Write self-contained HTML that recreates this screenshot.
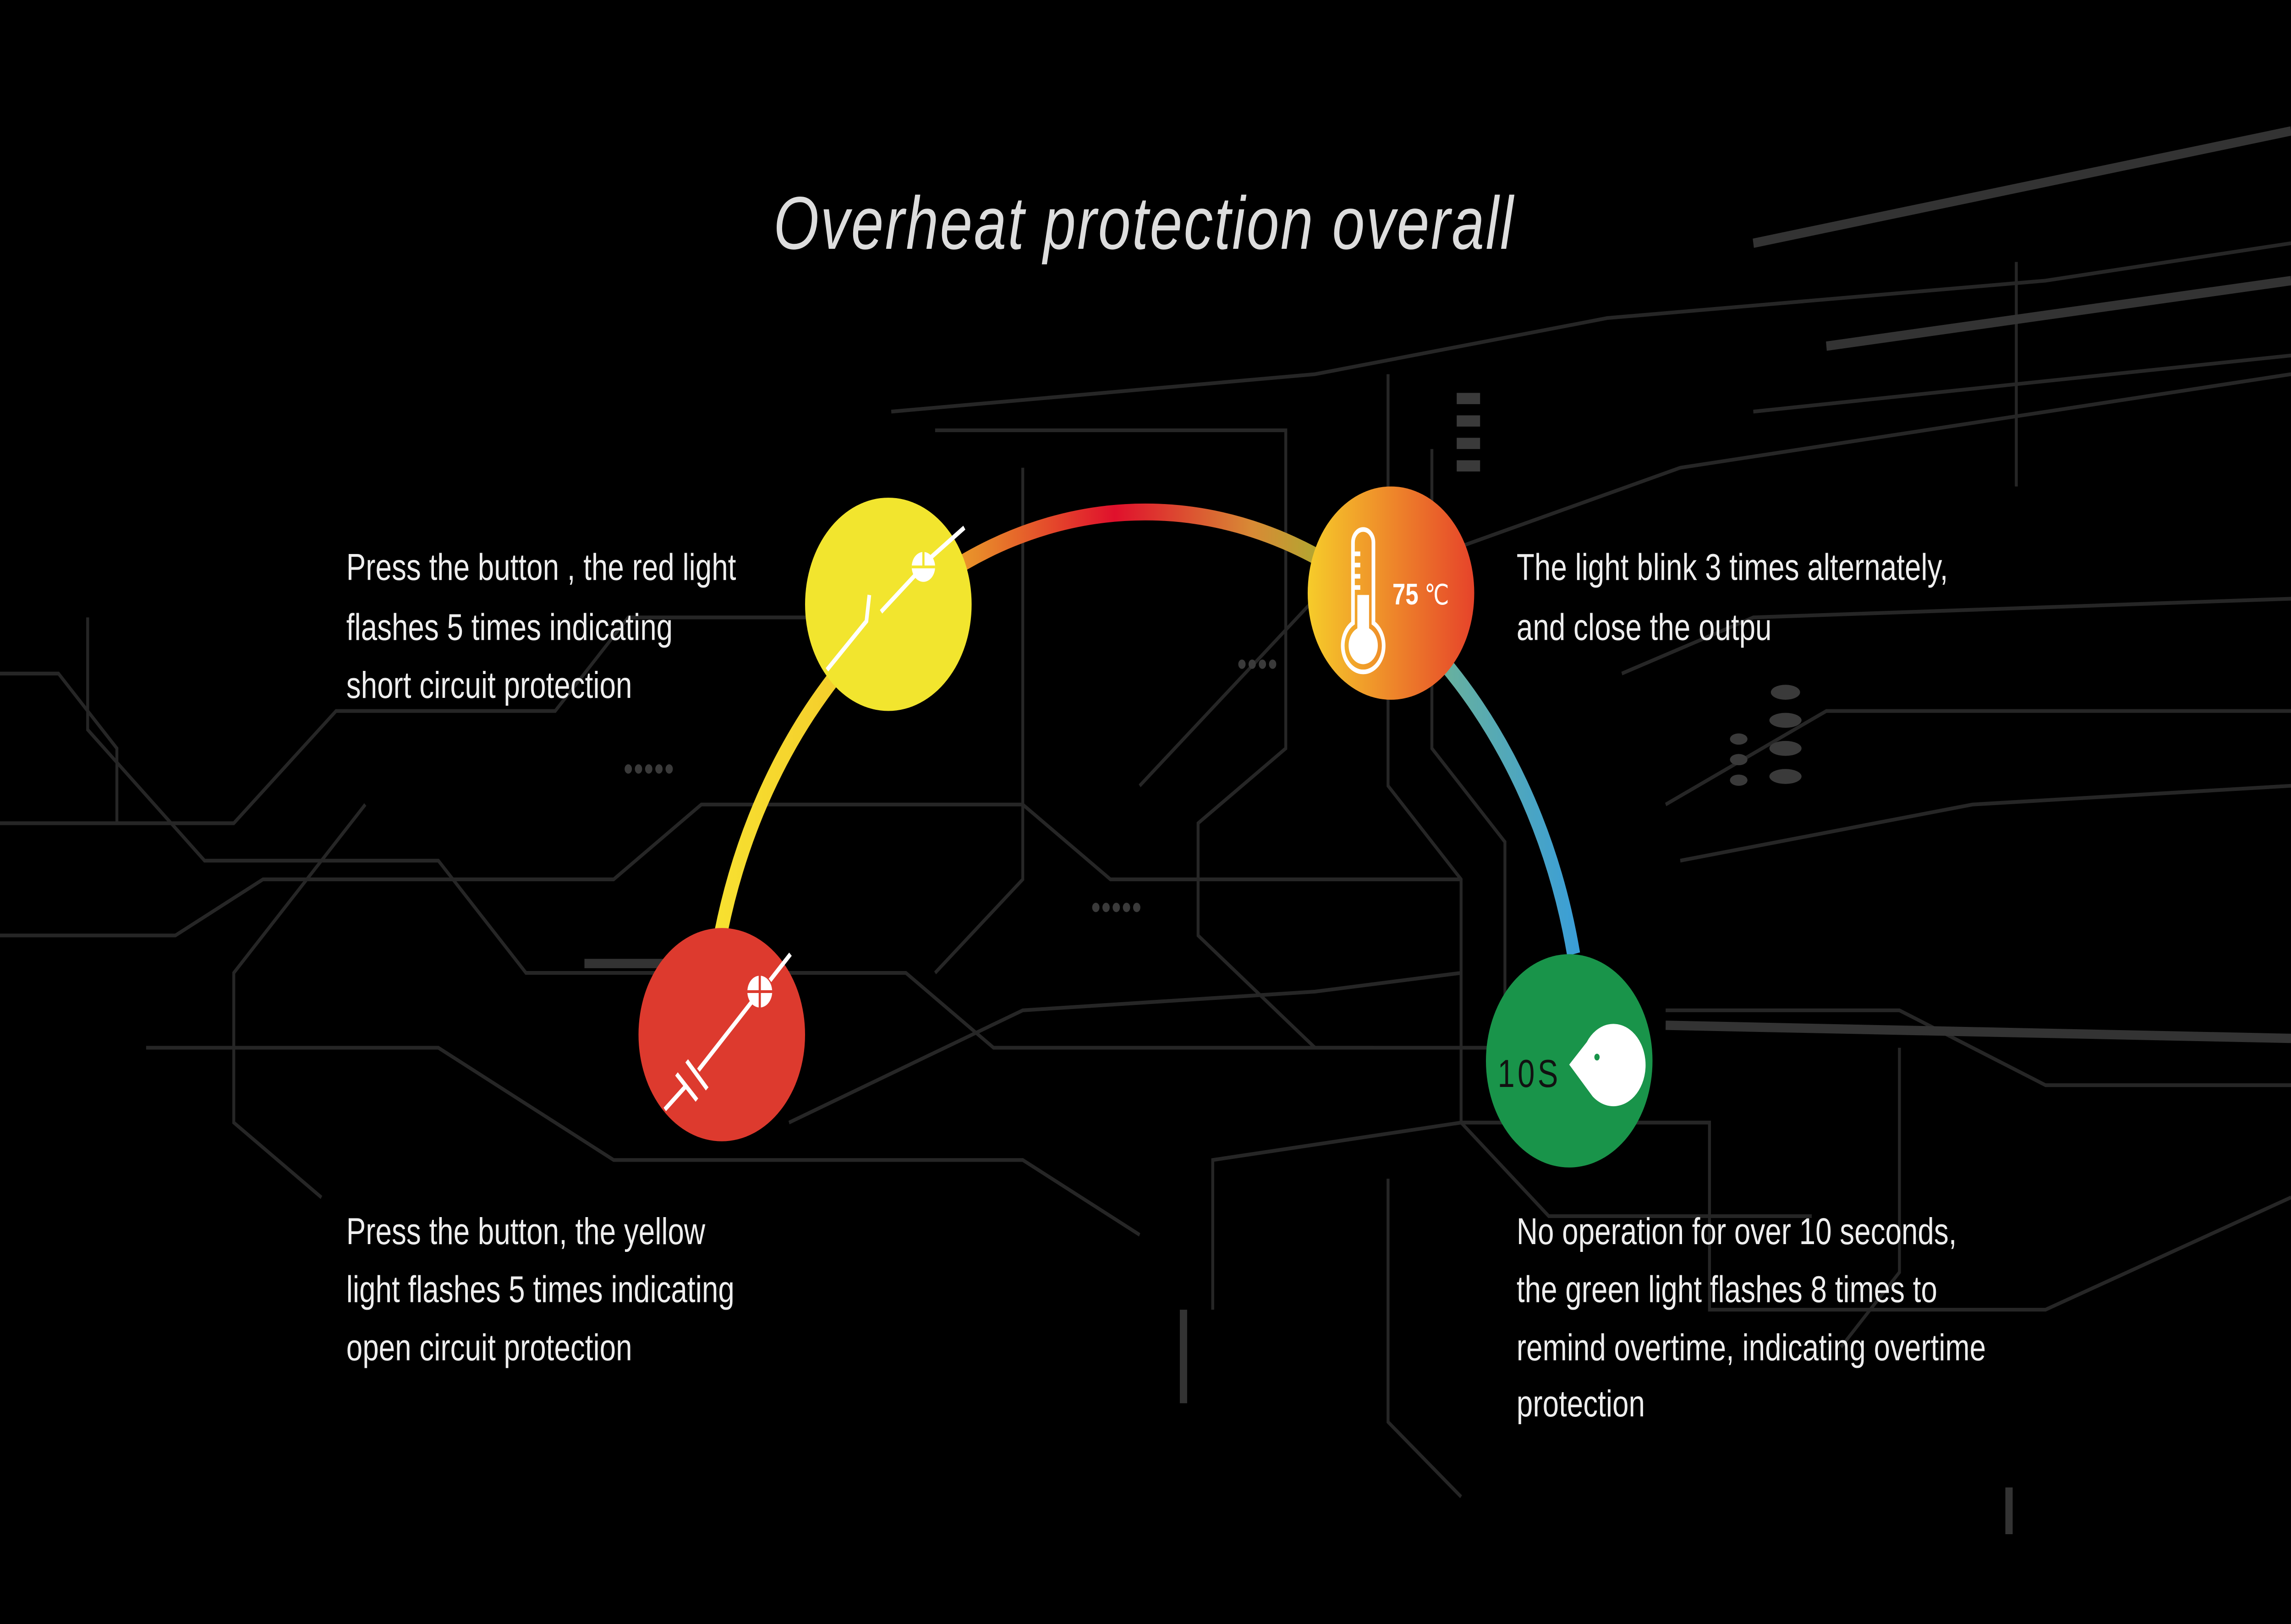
<!DOCTYPE html>
<html><head><meta charset="utf-8"><style>
html,body{margin:0;padding:0;background:#000;width:100vw;height:100vh;overflow:hidden;}
svg{display:block;position:fixed;left:0;top:0;width:100vw;height:100vh;}
text{font-family:"Liberation Sans",sans-serif;}
</style></head><body>
<svg viewBox="0 0 1568 868" preserveAspectRatio="none" xmlns="http://www.w3.org/2000/svg">
<defs>
<linearGradient id="arc" x1="493" y1="0" x2="1080" y2="0" gradientUnits="userSpaceOnUse">
<stop offset="0" stop-color="#f7e030"/>
<stop offset="0.2" stop-color="#f3c52a"/>
<stop offset="0.3" stop-color="#e88a2a"/>
<stop offset="0.46" stop-color="#e0102c"/>
<stop offset="0.62" stop-color="#d88a35"/>
<stop offset="0.7" stop-color="#b0a830"/>
<stop offset="0.85" stop-color="#66b0a0"/>
<stop offset="1" stop-color="#3a9ed8"/>
</linearGradient>
<linearGradient id="org" x1="0" y1="0" x2="1" y2="0">
<stop offset="0" stop-color="#f6cc2a"/>
<stop offset="1" stop-color="#e6432a"/>
</linearGradient>
</defs>
<rect width="1568" height="868" fill="#000"/>
<g fill="none" stroke="#262626" stroke-width="2">
<polyline points="0,440 160,440 230,380 380,380 430,330 560,330"/>
<polyline points="0,500 120,500 180,470 420,470 480,430 700,430 760,470 1000,470"/>
<polyline points="60,330 60,390 140,460 300,460 360,520 620,520 680,560 940,560"/>
<polyline points="610,220 900,200 1100,170 1400,150 1568,130"/>
<polyline points="640,230 880,230 880,400 820,440 820,500 900,560 1100,560"/>
<polyline points="950,200 950,420 1000,470 1000,600 1060,650 1240,650"/>
<polyline points="980,240 980,400 1030,450 1030,590"/>
<polyline points="1110,360 1200,330 1568,320"/>
<polyline points="780,420 900,320 1150,250 1568,200"/>
<polyline points="100,560 300,560 420,620 700,620 780,660"/>
<polyline points="540,600 700,540 900,530 1000,520"/>
<polyline points="1140,540 1300,540 1400,580 1568,580"/>
<polyline points="1150,460 1350,430 1568,420"/>
<polyline points="700,250 700,470 640,520"/>
<polyline points="250,430 160,520 160,600 220,640"/>
<polyline points="830,700 830,620 1000,600 1170,600 1170,700 1400,700 1568,640"/>
<polyline points="1300,560 1300,680 1260,720"/>
<polyline points="950,630 950,760 1000,800"/>
<polyline points="0,360 40,360 80,400 80,440"/>
<polyline points="1200,220 1568,190"/>
<polyline points="1380,140 1380,260"/>
<polyline points="1140,430 1250,380 1568,380"/>
</g>
<g stroke="#333" stroke-width="5" fill="none">
<line x1="1200" y1="130" x2="1568" y2="70"/>
<line x1="1250" y1="185" x2="1568" y2="150"/>
<line x1="1140" y1="548" x2="1568" y2="555"/>
<line x1="400" y1="515" x2="480" y2="515"/>
<line x1="810" y1="700" x2="810" y2="750"/>
<line x1="1375" y1="795" x2="1375" y2="820"/>
</g>
<g fill="#3a3a3a">
<circle cx="430" cy="411" r="2.5"/><circle cx="437" cy="411" r="2.5"/><circle cx="444" cy="411" r="2.5"/><circle cx="451" cy="411" r="2.5"/><circle cx="458" cy="411" r="2.5"/>
<circle cx="750" cy="485" r="2.5"/><circle cx="757" cy="485" r="2.5"/><circle cx="764" cy="485" r="2.5"/><circle cx="771" cy="485" r="2.5"/><circle cx="778" cy="485" r="2.5"/>
<circle cx="850" cy="355" r="2.5"/><circle cx="857" cy="355" r="2.5"/><circle cx="864" cy="355" r="2.5"/><circle cx="871" cy="355" r="2.5"/>
<ellipse cx="1222" cy="370" rx="10" ry="4"/><ellipse cx="1222" cy="385" rx="11" ry="4"/><ellipse cx="1222" cy="400" rx="11" ry="4"/><ellipse cx="1222" cy="415" rx="11" ry="4"/>
<ellipse cx="1190" cy="395" rx="6" ry="3"/><ellipse cx="1190" cy="406" rx="6" ry="3"/><ellipse cx="1190" cy="417" rx="6" ry="3"/>
<rect x="997" y="210" width="16" height="6"/><rect x="997" y="222" width="16" height="6"/><rect x="997" y="234" width="16" height="6"/><rect x="997" y="246" width="16" height="6"/>
</g>
<text x="783" y="133" text-anchor="middle" font-size="40" font-style="italic" fill="#dddddd" letter-spacing="1">Overheat protection overall</text>
<path d="M493,500 A300,300 0 0 1 1077,510" fill="none" stroke="url(#arc)" stroke-width="9"/>
<circle cx="608" cy="323" r="57" fill="#f2e52e"/>
<g stroke="#fff" stroke-width="2.5" fill="none">
<polyline points="566,358 593,332 595,318"/>
<line x1="603" y1="327" x2="628" y2="306"/>
<line x1="637" y1="298" x2="660" y2="282"/>
</g>
<circle cx="632" cy="303" r="8" fill="#fff"/>
<line x1="624" y1="303" x2="640" y2="303" stroke="#f2e52e" stroke-width="1.5"/>
<line x1="632" y1="295" x2="632" y2="303" stroke="#f2e52e" stroke-width="1.5"/>
<circle cx="494" cy="553" r="57" fill="#dd3a2e"/>
<g stroke="#fff" stroke-width="2.5" fill="none">
<line x1="455" y1="593" x2="470" y2="580"/>
<line x1="478" y1="572" x2="515" y2="535"/>
<line x1="527" y1="524" x2="541" y2="510"/>
<line x1="463" y1="574" x2="477" y2="588"/>
<line x1="470" y1="567" x2="484" y2="582"/>
</g>
<circle cx="520" cy="530" r="8.5" fill="#fff"/>
<line x1="511" y1="530" x2="529" y2="530" stroke="#dd3a2e" stroke-width="1.5"/>
<line x1="520" y1="521" x2="520" y2="539" stroke="#dd3a2e" stroke-width="1.5"/>
<circle cx="952" cy="317" r="57" fill="url(#org)"/>
<g stroke="#fff" stroke-width="2.5" fill="none">
<path d="M926,333 L926,290 A7,7 0 0 1 940,290 L940,333 A14,14 0 1 1 926,333 Z"/>
<line x1="926" y1="296" x2="931" y2="296"/><line x1="926" y1="302" x2="931" y2="302"/><line x1="926" y1="308" x2="931" y2="308"/><line x1="926" y1="314" x2="931" y2="314"/>
</g>
<rect x="929" y="318" width="8" height="20" fill="#fff"/>
<circle cx="933" cy="345" r="10" fill="#fff"/>
<text x="953" y="323" font-size="16" font-weight="bold" fill="#fff">75</text>
<text x="975" y="323" font-size="15" fill="#fff">℃</text>
<circle cx="1074" cy="567" r="57" fill="#19944a"/>
<text x="1025" y="581" font-size="21" fill="#111" letter-spacing="2">10S</text>
<path d="M1074,569 L1086,557 A22,22 0 1 1 1090,586 Z" fill="#fff"/>
<circle cx="1093" cy="565" r="1.8" fill="#19944a"/>
<g font-size="20" fill="#eeeeee">
<text x="237" y="310">Press the button , the red light</text>
<text x="237" y="342">flashes 5 times indicating</text>
<text x="237" y="373">short circuit protection</text>
<text x="237" y="665">Press the button, the yellow</text>
<text x="237" y="696">light flashes 5 times indicating</text>
<text x="237" y="727">open circuit protection</text>
<text x="1038" y="310">The light blink 3  times alternately,</text>
<text x="1038" y="342">and close the outpu</text>
<text x="1038" y="665">No operation for over 10 seconds,</text>
<text x="1038" y="696">the green light flashes 8 times to</text>
<text x="1038" y="727">remind overtime, indicating overtime</text>
<text x="1038" y="757">protection</text>
</g>
</svg>
</body></html>
